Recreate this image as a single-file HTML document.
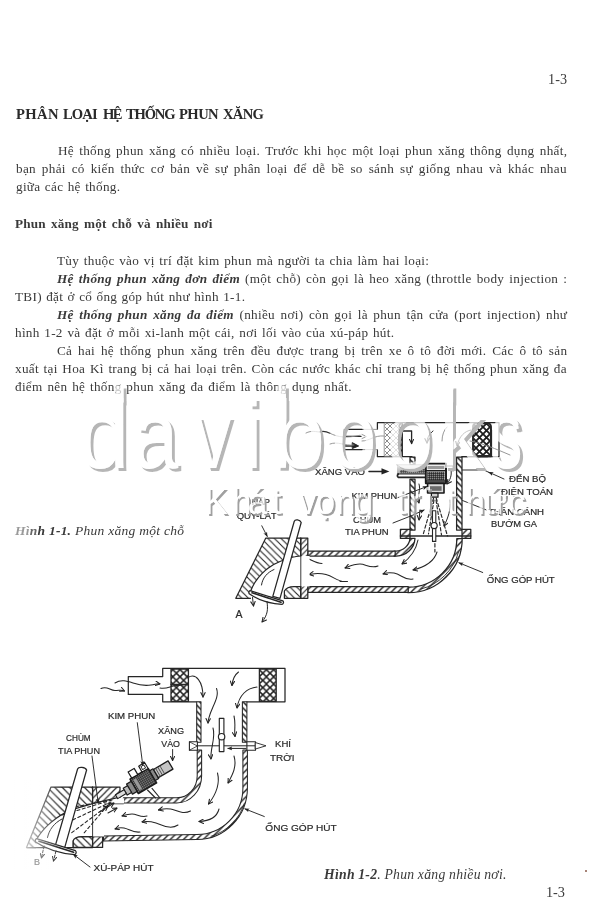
<!DOCTYPE html>
<html lang="vi">
<head>
<meta charset="utf-8">
<title>1-3</title>
<style>
html,body{margin:0;padding:0;background:#fff;}
body{width:600px;height:915px;position:relative;overflow:hidden;font-family:"Liberation Serif",serif;color:#3a3a3a;}
.l{position:absolute;white-space:nowrap;font-size:13.4px;line-height:18px;height:18px;will-change:transform;}
.s{text-align:left;text-align-last:left;}
.b{font-weight:bold;}
.i{font-style:italic;}
.bi{font-weight:bold;font-style:italic;}
svg{position:absolute;left:0;top:0;}
</style>
</head>
<body>
<!--TEXT-->
<div class="l " id="pn1" style="left:548.4px;top:70.01px;font-size:14.2px;letter-spacing:0.139px;word-spacing:0.000px;">1-3</div>
<div class="l b" style="left:15.95px;top:105.47px;font-size:14.6px;letter-spacing:0.423px;color:#2a2a2a;">PHÂN</div>
<div class="l b" style="left:62.70px;top:105.47px;font-size:14.6px;letter-spacing:-0.865px;color:#2a2a2a;">LOẠI</div>
<div class="l b" style="left:102.90px;top:105.47px;font-size:14.6px;letter-spacing:-1.545px;color:#2a2a2a;">HỆ</div>
<div class="l b" style="left:125.70px;top:105.47px;font-size:14.6px;letter-spacing:-1.196px;color:#2a2a2a;">THỐNG</div>
<div class="l b" style="left:179.20px;top:105.47px;font-size:14.6px;letter-spacing:-0.565px;color:#2a2a2a;">PHUN</div>
<div class="l b" style="left:222.70px;top:105.47px;font-size:14.6px;letter-spacing:-0.720px;color:#2a2a2a;">XĂNG</div>
<div class="l " id="p1a" style="left:57.5px;top:141.75px;font-size:13.2px;letter-spacing:0.300px;word-spacing:1.692px;">Hệ thống phun xăng có nhiều loại. Trước khi học một loại phun xăng thông dụng nhất,</div>
<div class="l " id="p1b" style="left:16px;top:160.05px;font-size:13.2px;letter-spacing:0.300px;word-spacing:2.326px;">bạn phải có kiến thức cơ bản về sự phân loại để dễ bề so sánh sự giống nhau và khác nhau</div>
<div class="l " id="p1c" style="left:16px;top:177.94px;font-size:13.2px;letter-spacing:0.300px;word-spacing:0.800px;">giữa các hệ thống.</div>
<div class="l b" id="h2" style="left:15px;top:214.94px;font-size:13.2px;letter-spacing:0.200px;word-spacing:1.647px;">Phun xăng một chỗ và nhiều nơi</div>
<div class="l " id="p2a" style="left:56.5px;top:251.55px;font-size:13.2px;letter-spacing:0.300px;word-spacing:1.035px;">Tùy thuộc vào vị trí đặt kim phun mà người ta chia làm hai loại:</div>
<div class="l " id="p2b" style="left:56.5px;top:270.05px;font-size:13.2px;letter-spacing:0.300px;word-spacing:1.534px;"><span class="bi">Hệ thống phun xăng đơn điểm</span> (một chỗ) còn gọi là heo xăng (throttle body injection :</div>
<div class="l " id="p2c" style="left:15px;top:287.85px;font-size:13.2px;letter-spacing:0.300px;word-spacing:0.742px;">TBI) đặt ở cổ ống góp hút như hình 1-1.</div>
<div class="l " id="p2d" style="left:56.5px;top:306.35px;font-size:13.2px;letter-spacing:0.300px;word-spacing:1.948px;"><span class="bi">Hệ thống phun xăng đa điểm</span> (nhiều nơi) còn gọi là phun tận cửa (port injection) như</div>
<div class="l " id="p2e" style="left:15px;top:324.15px;font-size:13.2px;letter-spacing:0.300px;word-spacing:1.033px;">hình 1-2 và đặt ở mỗi xi-lanh một cái, nơi lối vào của xú-páp hút.</div>
<div class="l " id="p2f" style="left:56.5px;top:342.35px;font-size:13.2px;letter-spacing:0.300px;word-spacing:2.229px;">Cả hai hệ thống phun xăng trên đều được trang bị trên xe ô tô đời mới. Các ô tô sản</div>
<div class="l " id="p2g" style="left:15px;top:360.15px;font-size:13.2px;letter-spacing:0.300px;word-spacing:1.089px;">xuất tại Hoa Kì trang bị cả hai loại trên. Còn các nước khác chỉ trang bị hệ thống phun xăng đa</div>
<div class="l " id="p2h" style="left:15px;top:378.05px;font-size:13.2px;letter-spacing:0.300px;word-spacing:1.216px;">điểm nên hệ thống phun xăng đa điểm là thông dụng nhất.</div>
<div class="l " id="c1" style="left:15px;top:522.04px;font-size:13.5px;letter-spacing:0.200px;word-spacing:0.354px;"><span class="bi"><span style="color:#9a9a9a">Hì</span><span style="color:#666">n</span>h 1-1.</span><span class="i"> Phun xăng một chỗ</span></div>
<div class="l " id="c2" style="left:324px;top:865.58px;font-size:13.7px;letter-spacing:0.300px;word-spacing:-0.387px;"><span class="bi">Hình 1-2</span><span class="i">. Phun xăng nhiều nơi.</span></div>
<div class="l " id="pn2" style="left:546px;top:883.37px;font-size:14.3px;letter-spacing:-0.131px;word-spacing:0.000px;">1-3</div>
<!--/TEXT-->
<!--FIG1-->
<svg width="600" height="915" viewBox="0 0 600 915"><defs>
<pattern id="xh" width="7.2" height="7.2" patternUnits="userSpaceOnUse"><rect width="7.2" height="7.2" fill="#fff"/><path d="M0,0L7.2,7.2M7.2,0L0,7.2" stroke="#1e1e1e" stroke-width="1.45"/></pattern>
<pattern id="xl" width="6" height="6" patternUnits="userSpaceOnUse"><rect width="6" height="6" fill="#fff"/><path d="M0,0L6,6M6,0L0,6" stroke="#666" stroke-width="0.75"/></pattern>
<pattern id="xd" width="7" height="7" patternUnits="userSpaceOnUse"><rect width="7" height="7" fill="#fff"/><path d="M0,0L7,7M7,0L0,7" stroke="#1a1a1a" stroke-width="1.8"/></pattern>
<pattern id="hw" width="6.6" height="6.6" patternUnits="userSpaceOnUse"><rect width="6.6" height="6.6" fill="#fff"/><path d="M-1,1L1,-1M0,6.6L6.6,0M5.6,7.6L7.6,5.6" stroke="#222" stroke-width="1.45"/></pattern>
<pattern id="hwb" width="6.2" height="6.2" patternUnits="userSpaceOnUse"><rect width="6.2" height="6.2" fill="#fff"/><path d="M-1,5.2L1,7.2M0,0L6.2,6.2M5.2,-1L7.2,1" stroke="#222" stroke-width="1.45"/></pattern>
<pattern id="hh" width="6.6" height="6.6" patternUnits="userSpaceOnUse"><rect width="6.6" height="6.6" fill="#fff"/><path d="M-1,5.6L1,7.6M0,0L6.6,6.6M5.6,-1L7.6,1" stroke="#2a2a2a" stroke-width="1.15"/></pattern>
<pattern id="hh2" width="7.4" height="7.4" patternUnits="userSpaceOnUse"><rect width="7.4" height="7.4" fill="#fff"/><path d="M-1,6.4L1,8.4M0,0L7.4,7.4M6.4,-1L8.4,1" stroke="#2a2a2a" stroke-width="1.2"/></pattern>
<pattern id="hf2" width="6.6" height="6.6" patternUnits="userSpaceOnUse"><rect width="6.6" height="6.6" fill="#fff"/><path d="M-1,1L1,-1M0,6.6L6.6,0M5.6,7.6L7.6,5.6" stroke="#2a2a2a" stroke-width="1.2"/></pattern>
<pattern id="hf" width="5.6" height="5.6" patternUnits="userSpaceOnUse"><rect width="5.6" height="5.6" fill="#fff"/><path d="M-1,1L1,-1M0,5.6L5.6,0M4.6,6.6L6.6,4.6" stroke="#2a2a2a" stroke-width="1.15"/></pattern>
<pattern id="tex" width="2" height="2" patternUnits="userSpaceOnUse"><rect width="2" height="2" fill="#4a4a4a"/><rect width="1" height="1" fill="#888"/><rect x="1" y="1" width="1" height="1" fill="#2c2c2c"/></pattern>
<marker id="ah" viewBox="0 0 10 10" refX="8.5" refY="5" markerWidth="5.2" markerHeight="5.2" orient="auto-start-reverse" markerUnits="userSpaceOnUse"><path d="M0,1.2L10,5L0,8.8L2.6,5Z" fill="#222"/></marker>
<marker id="ao" viewBox="0 0 10 10" refX="9" refY="5" markerWidth="5.5" markerHeight="5.5" orient="auto-start-reverse" markerUnits="userSpaceOnUse"><path d="M1,1L9,5L1,9" fill="none" stroke="#222" stroke-width="1.9" stroke-linecap="round" stroke-linejoin="round"/></marker>
<marker id="ab" viewBox="0 0 10 10" refX="8.5" refY="5" markerWidth="7.5" markerHeight="6" orient="auto" markerUnits="userSpaceOnUse"><path d="M0,0.5L10,5L0,9.5Z" fill="#222"/></marker>
<filter id="soft" x="-2%" y="-2%" width="104%" height="104%"><feGaussianBlur stdDeviation="0.35"/></filter>
<filter id="wm1" x="-5%" y="-20%" width="110%" height="140%">
 <feMorphology in="SourceAlpha" operator="erode" radius="0.3" result="e"/>
 <feOffset in="e" dx="2.6" dy="2.9" result="o"/>
 <feGaussianBlur in="o" stdDeviation="0.45" result="ob"/>
 <feFlood flood-color="#b6b6b6"/><feComposite in2="ob" operator="in" result="sh0"/>
 <feComposite in="sh0" in2="e" operator="out" result="sh"/>
 <feFlood flood-color="#ffffff" flood-opacity="0.74"/><feComposite in2="e" operator="in" result="fg"/>
 <feMerge><feMergeNode in="sh"/><feMergeNode in="fg"/></feMerge>
</filter>
<filter id="wm2" x="-5%" y="-20%" width="110%" height="140%">
 <feMorphology in="SourceAlpha" operator="dilate" radius="0.45" result="e"/>
 <feOffset in="e" dx="2.1" dy="1.9" result="o"/>
 <feGaussianBlur in="o" stdDeviation="0.35" result="ob"/>
 <feFlood flood-color="#a0a0a0"/><feComposite in2="ob" operator="in" result="sh0"/>
 <feComposite in="sh0" in2="e" operator="out" result="sh"/>
 <feFlood flood-color="#ffffff" flood-opacity="0.74"/><feComposite in2="e" operator="in" result="fg"/>
 <feMerge><feMergeNode in="sh"/><feMergeNode in="fg"/></feMerge>
</filter>
<linearGradient id="fadeL" x1="0" x2="1" y1="0" y2="0"><stop offset="0" stop-color="#fff" stop-opacity="0.95"/><stop offset="0.45" stop-color="#fff" stop-opacity="0.55"/><stop offset="1" stop-color="#fff" stop-opacity="0"/></linearGradient>
<linearGradient id="tube" x1="0" x2="0" y1="0" y2="1"><stop offset="0" stop-color="#f0f0f0"/><stop offset="0.4" stop-color="#cfcfcf"/><stop offset="1" stop-color="#a8a8a8"/></linearGradient>
</defs>
<g filter="url(#soft)"><g id="fig1" fill="none" stroke="#262626" stroke-width="1.25" stroke-linejoin="round" stroke-linecap="round">
<!-- thin vertical line -->
<path d="M453.6,390V463" stroke="#777" stroke-width="0.9"/>
<!-- air cleaner -->
<path d="M377.4,422.6H499V456.7H462M412,456.7H377.4V449.6M377.4,429.4V422.6"/>
<path d="M377.4,429.4H362M377.4,449.6H362" stroke="#9a9a9a" stroke-width="1"/>
<path d="M362,429.4H344V449.6H362" stroke-width="1.4"/>
<path d="M344,436.4H361" stroke-width="1.3"/><path d="M362,434.5l4.5,2l-4.5,2" stroke="#999" stroke-width="1"/>
<path d="M344,446H355" stroke-width="1.4"/><path d="M352.6,442.8L358.6,446L352.6,448.4Z" fill="#222" stroke-width="1"/>
<rect x="384.6" y="423" width="17.4" height="33.2" fill="url(#xl)" stroke="#888" stroke-width="0.8"/>
<path d="M401,423.2q-3.6,2.7 0,5.5q-3.6,2.7 0,5.5q-3.6,2.7 0,5.5q-3.6,2.7 0,5.5q-3.6,2.7 0,5.5q-3.6,2.7 0,5.5" stroke-width="1.9"/><path d="M402.2,423V456.2" stroke-width="1.5"/>
<rect x="473" y="423.2" width="18" height="33" rx="3.5" fill="url(#xd)" stroke-width="1.9"/>
<path d="M491,430V456.2H478" stroke-width="2.2"/>
<path d="M480,456.7H462" />
<!-- arrows in air cleaner -->
<g stroke-width="1" marker-end="url(#ao)">
<path d="M403,431h8.6v12.5" stroke-width="1.3"/>
<path d="M433,431c-4,3 -6,7 -6,12"/>
<path d="M471,430c-6,1 -12,6 -14,16"/>
</g>
<g stroke-width="0.9" stroke="#8c8c8c">
<path d="M306,433c6,-3 10,-1 14,-1"/><path d="M320,431.8c4,-1 7,0 10,1.5" stroke="#333" stroke-width="1.2"/>
<path d="M330,433.3c8,4 16,5 30,2"/>
<path d="M330,444c8,-3 14,2 24,1"/>
<path d="M362,441c8,0 12,-6 22,-5"/>
<path d="M447,427c-3,3 -5,8 -5,14"/>
<path d="M470,441c12,2 26,8 40,14"/>
</g>
<path d="M518.5,425L520,431.6" stroke="#666" stroke-width="1.2"/>
<!-- throttle body walls -->
<rect x="456.6" y="457" width="5.4" height="73" fill="url(#hwb)"/>
<rect x="410" y="479" width="5" height="51" fill="url(#hwb)"/>
<rect x="410" y="457" width="5" height="7.6" fill="url(#hwb)"/>
<!-- flange -->
<rect x="400.4" y="529.4" width="9.6" height="9" fill="url(#hw)"/>
<rect x="462" y="529.4" width="8.8" height="9" fill="url(#hw)"/>
<path d="M400.4,536H470.8" stroke-width="1.4"/>
<!-- fuel inlet tube -->
<rect x="397" y="464.8" width="28.6" height="9" fill="url(#tube)" stroke="none"/>
<path d="M400,470.2L425.6,468.4V473.6H400Z" fill="url(#tex)" stroke="none" opacity="0.8"/>
<path d="M397,464.8H425.6" stroke-width="0.7" stroke="#777"/>
<path d="M397.4,474H425.6" stroke-width="1.2" stroke="#333"/>
<path d="M425.6,477.4H398.4q-2,-1.7 0,-3.4" stroke-width="1.7"/>
<!-- injector -->
<rect x="425.8" y="463.6" width="20.2" height="19.6" fill="#ececec" stroke="#1a1a1a" stroke-width="1.9"/>
<rect x="427.6" y="466" width="16.6" height="3" fill="#9a9a9a" stroke="none"/>
<rect x="427.2" y="471.6" width="17.4" height="8.6" fill="url(#tex)" stroke="none"/>
<path d="M426,470.6H446M426,481H446" stroke-width="1.3" stroke="#1a1a1a"/>
<rect x="427.6" y="483.4" width="16.4" height="9.6" fill="#dcdcdc" stroke="#1a1a1a" stroke-width="1.6"/>
<rect x="430" y="486.2" width="11.6" height="4.6" fill="#6c6c6c" stroke="none"/>
<rect x="431.4" y="493.2" width="6.6" height="4" fill="#d0d0d0" stroke="#1a1a1a" stroke-width="1.2"/>
<path d="M446.2,466H453V471" stroke-width="1"/>
<!-- spray -->
<g stroke-dasharray="3.4 2.2" stroke-width="1.15">
<path d="M433.6,498L423,535"/><path d="M436.2,498L447.5,536"/>
<path d="M434,500L428.5,534"/><path d="M436,500L441.5,535"/><path d="M434.9,538V552"/>
</g>
<!-- throttle plate -->
<rect x="432.5" y="510.8" width="3.3" height="30.6" fill="#fff" stroke-width="1.1"/>
<circle cx="434.1" cy="525.6" r="3.1" fill="#fff" stroke-width="1.2"/>
<!-- arrows in throttle body -->
<g stroke-width="1" marker-end="url(#ao)">
<path d="M451,470c1,6 -1,10 -4,14"/>
<path d="M419,484c2,6 -2,12 0,19"/>
<path d="M450,500c1,10 -2,18 -6,26"/>
<path d="M420,510l-1,10"/>
</g>
<!-- elbow outer wall -->
<path d="M456.8,538.5H462.2A54,54 0 0 1 408,592.7L407,587.2A48.6,48.6 0 0 0 456.8,538.5Z" fill="url(#hw)"/>
<path d="M458.5,552A52,52 0 0 1 421,589" stroke-width="0.9"/>
<!-- lower wall -->
<rect x="307.8" y="586.6" width="100.4" height="5.8" fill="url(#hw)"/>
<!-- inner elbow wall -->
<path d="M410,538.4H415A18.6,18.6 0 0 1 396,556H394V551H396A14,14 0 0 0 410,538.4Z" fill="url(#hw)"/>
<rect x="307.8" y="551" width="87.4" height="5" fill="url(#hw)"/>
<!-- flow arrows in manifold -->
<g stroke-width="1.05" marker-end="url(#ao)">
<path d="M418,540c-2,10 -8,18 -16,24"/>
<path d="M437,552c-3,10 -12,15 -24,18"/>
<path d="M413,579c-8,2 -12,-5 -19,-6s-8,0 -11,1"/>
<path d="M378,566c-8,3 -12,-2 -18,-2s-10,2 -15,4"/>
<path d="M346,581.5c-8,1 -12,-5 -20,-7s-11,-1 -17,0"/>
<path d="M322,563.5c-8,0 -14,-7 -22,-7s-12,4 -15,8.5"/>
<path d="M299.5,572.5c-7,1 -12,5 -15,12"/>
</g>
<path d="M340,581.5h7.5" stroke-width="1"/>
<!-- cylinder head -->
<path d="M265.8,538H300.8V598.3H235.8Z" fill="url(#hh)"/>
<path d="M300.8,538H307.8V598.3H300.8Z" fill="url(#hf)"/>
<!-- port cutout -->
<path d="M309.6,556H300.8C292,556.5 286,559 280,561.5C266,567 255,579 250.5,591.5L251,599.3H284.4V591C286,588 290,586.6 294,586.6H309.6Z" fill="#fff" stroke="none"/>
<path d="M300.8,556C292,556.5 286,559 280,561.5C266,567 255,579 250.5,591.5M284.4,598.3V591C286,588 290,586.6 294,586.6H300.8"/>
<path d="M274,569.5C267,572.5 262.5,578 261.5,585" stroke-width="1"/>
<path d="M300.8,538V598.3" stroke-width="0.9"/>
<!-- valve stem -->
<path d="M294.2,521.5C295,519 300,519.5 301.2,522.5L280,598.4L272.8,596.4Z" fill="#fff"/>
<!-- valve head -->
<path d="M250,590.6L282.8,600.8C284,602 283.5,604 282,604.4C270,603.6 258,600 249.2,593.8C248.6,592.4 249,591 250,590.6Z" fill="#fff" stroke-width="1.3"/>
<path d="M252,592.8L281,602.2" stroke-width="1.6"/>
<!-- arrows out of valve -->
<g stroke-width="1" marker-end="url(#ao)">
<path d="M252.5,597.5L253.5,606"/>
<path d="M267,601.5c1,8 1,13 -5,20.5"/>
</g>
<!-- leaders -->
<g stroke-width="0.95">
<path d="M261.8,525.8L267.2,536.4" marker-end="url(#ah)"/>
<path d="M398,497.5L411,492.5L427,486.5" marker-end="url(#ah)"/>
<path d="M393,523L412,515.5L424,510" marker-end="url(#ah)"/>
<path d="M462,470H484L490.5,473.2"/><path d="M504,479L489,472.3" marker-end="url(#ah)"/>
<path d="M486.5,510L462.5,500.5"/>
<path d="M482.7,572.5L459,562.8" marker-end="url(#ah)"/>
</g>
<!-- XANG VAO arrow -->
<path d="M369,471.4H383" stroke-width="1.5"/><path d="M381.5,468.2L389.4,471.4L381.5,474.6Z" fill="#222" stroke="none"/>
</g>
<g id="fig2" fill="none" stroke="#262626" stroke-width="1.25" stroke-linejoin="round" stroke-linecap="round">
<!-- air cleaner -->
<path d="M162.7,668.4H285V701.8H247M196.5,701.8H162.7V694.4H128.3V676.6H162.7V668.4M162.7,676.6V668.4M162.7,694.4V701.8"/>
<rect x="171" y="669" width="17.4" height="32.3" fill="url(#xh)" stroke-width="1.3"/>
<path d="M171,684.4H188.4" stroke-width="1.3"/>
<rect x="259.4" y="669" width="16.8" height="32.3" fill="url(#xh)" stroke-width="1.3"/>
<!-- vertical pipe walls -->
<rect x="196.7" y="701.8" width="4.3" height="40.5" fill="url(#hwb)" stroke-width="1.05"/>
<rect x="242.4" y="701.8" width="4.5" height="40.5" fill="url(#hwb)" stroke-width="1.05"/>
<path d="M197.2,750V776A20.4,21.8 0 0 1 176.8,797.8H123.5V803H176.8A25,27 0 0 0 201.6,776V750Z" fill="url(#hw)" stroke-width="1.05"/>
<path d="M242.9,750V788A46,46.5 0 0 1 197,834.5L103.5,836V841L197,839.6A50.6,51.6 0 0 0 247.4,788V750Z" fill="url(#hw)" stroke-width="1.05"/>
<path d="M244.5,803A49,50 0 0 1 211,836.3" stroke-width="0.85"/>
<!-- throttle shaft bosses -->
<rect x="189.4" y="741.8" width="8" height="8.4" fill="#fff" stroke-width="1.1"/>
<path d="M189.4,741.8L197.4,746L189.4,750.2" stroke-width="0.8"/>
<rect x="246.9" y="741.8" width="8.6" height="8.4" fill="#fff" stroke-width="1.1"/>
<path d="M197.4,745.8H264" stroke-width="1"/>
<path d="M255.5,742.6L266,745.8L255.5,749Z" fill="#fff" stroke-width="0.9"/>
<!-- throttle plate -->
<rect x="219.3" y="718.4" width="4.6" height="33.2" fill="#fff" stroke-width="1.15"/>
<circle cx="221.6" cy="736.7" r="3.2" fill="#fff" stroke-width="1.2"/>
<path d="M246,748.4H228" stroke-width="1" marker-end="url(#ah)"/>
<!-- arrows: air -->
<g stroke-width="1.05" marker-end="url(#ao)">
<path d="M101,688.5c6,-3 9,2 14,2s6,-1 9.5,0.5"/>
<path d="M115,683c6,-4 12,-2 18,0s12,3 18,2s6,-1.5 9,-1"/>
<path d="M160,688c7,1.5 10,-2 16,-2.5s8,-0.5 11,-1" marker-end="none"/>
<path d="M188,677.5c8,-5 15,4 15,19.5"/>
<path d="M238.5,672c-4,3 -6,8 -6.5,13.5"/>
<path d="M257,687c-10,1 -18,8 -20,21"/>
<path d="M216.5,688.5c4,10 -8,22 -8.5,34.5"/>
<path d="M234,716c2,8 0,13 1,20.5"/>
<path d="M213,728c3,10 -3,20 -2,31"/>
<path d="M234,756c3,10 -1,18 -6,27"/>
<path d="M217.5,773c3,12 -2,22 -9,31"/>
<path d="M219,809c-2,8 -9,12 -20,12.5"/>
<path d="M190.5,811c-8,4 -14,-1 -20,-2s-8,0 -12,1"/>
<path d="M178,825c-8,5 -15,0 -22,-2s-9,-2 -14,-1"/>
<path d="M147,816c-6,2 -10,-2 -15,-2s-7,1 -10,2"/>
<path d="M140,832c-7,1 -11,-3 -16,-4s-6,0 -9,1"/>
</g>
<!-- cylinder head -->
<path d="M51,787H92.6V847.6H26.5Z" fill="url(#hh2)"/>
<path d="M92.6,787H120V798.5H123.5V803.5H104L92.6,804Z" fill="url(#hf2)"/>
<path d="M73,836.5H92.6V847.4H73Z" fill="url(#hh2)"/>
<path d="M92.6,836.5H102.6V847.4H92.6Z" fill="url(#hf2)"/>
<path d="M102.6,836.5V842" />
<!-- port cutout -->
<path d="M124,803.6V798.2L117.5,797.6L92.6,803.6L72,809.6C56,816 43,828 36.5,839.5L36,849H73V841C74,838 78,836.5 82,836.5H104V803.6Z" fill="#fff" stroke="none"/>
<path d="M117.5,797.6L92.6,803.6L72,809.6C56,816 43,828 36.5,839.5M73,847.4V841C74,838 78,836.5 82,836.5H92.6"/>
<path d="M62,819C54,823 49,830 47.5,837.5" stroke-width="1"/>
<path d="M27,847.6H74" stroke-width="1.1"/>
<path d="M92.6,787V847.4" stroke-width="0.9"/>
<!-- spray dashes -->
<g stroke-width="1.1" stroke-dasharray="3 2.6">
<path d="M112,800L62,815"/><path d="M111,802L64,824"/><path d="M110,804L70,834"/><path d="M106,801L74,807"/><path d="M108,805L84,833"/>
</g>
<g stroke-width="1.05" marker-end="url(#ao)">
<path d="M106,808l8,-5"/><path d="M100,812l8,-6"/><path d="M108,813l9,-5"/>
</g>
<!-- valve stem -->
<path d="M77.6,769C78.4,766.4 85.4,766.8 86.6,770L64.4,848.6L55.2,846Z" fill="#fff"/>
<!-- valve head -->
<path d="M36.5,838.6L75.4,850.6C76.8,852 76.2,854.2 74.6,854.6C60,853.4 46,849 35.6,842C35,840.4 35.4,839 36.5,838.6Z" fill="#fff" stroke-width="1.3"/>
<path d="M39,841.2L73.6,852.2" stroke-width="1.7"/>
<g stroke-width="1" marker-end="url(#ao)" stroke-dasharray="2.6 1.6">
<path d="M44,846L41.5,858"/><path d="M56,851L53.5,861"/>
</g>
<!-- injector -->
<g transform="translate(143.3,781) rotate(-30.5)">
<rect x="-10.6" y="-8.3" width="21.2" height="16.6" fill="url(#tex)" stroke="#1a1a1a" stroke-width="1.5"/>
<rect x="-8" y="-6" width="3" height="12" fill="#999" stroke="none"/>
<rect x="10.6" y="-5.6" width="4" height="11.2" fill="#888" stroke="#1a1a1a" stroke-width="1.1"/>
<rect x="14.6" y="-4.8" width="17" height="9.6" fill="#c4c4c4" stroke="#1a1a1a" stroke-width="1.3"/>
<path d="M17,-4.6V4.6M19.5,-4.6V4.6M22,-4.6V4.6" stroke-width="0.8" stroke="#444"/>
<rect x="-16" y="-5.8" width="5.4" height="11.6" fill="#888" stroke="#1a1a1a" stroke-width="1.2"/>
<rect x="-21" y="-4" width="5" height="8" fill="#bbb" stroke="#1a1a1a" stroke-width="1.1"/>
<rect x="-31" y="-2.2" width="10" height="4.4" fill="#ddd" stroke="#1a1a1a" stroke-width="1.1"/>
<rect x="-8.5" y="-15.5" width="7" height="7.2" fill="#fff" stroke="#1a1a1a" stroke-width="1.2"/>
<path d="M3.5,-8.3V-15L10.5,-15.6V-8.3Z" fill="#fff" stroke="#1a1a1a" stroke-width="1.2"/>
<rect x="5.2" y="-13.6" width="3.4" height="3.4" fill="#fff" stroke-width="0.9"/>
</g>
<path d="M147.5,790L155.5,798M152,788.4L160,798" stroke-width="1.1"/>
<!-- leaders -->
<g stroke-width="0.95">
<path d="M137.3,722.7L142.8,765.5" marker-end="url(#ah)"/>
<path d="M92,756L98.2,803" marker-end="url(#ah)"/>
<path d="M172.6,749.5V760.5" marker-end="url(#ao)"/>
<path d="M264.3,816.5L245,808.9" marker-end="url(#ah)"/>
<path d="M90,867L73.4,854.4" marker-end="url(#ah)"/>
</g>
<circle cx="586" cy="871" r="1" fill="#8a5a4a" stroke="none"/>
<!-- fade on left -->
<rect x="14" y="780" width="46" height="90" fill="url(#fadeL)" stroke="none"/>
</g>
<g font-family="Liberation Sans, sans-serif" fill="#2a2a2a" stroke="#2a2a2a" stroke-width="0.2">
<text x="315" y="474.6" font-size="8.8" textLength="50.0" lengthAdjust="spacingAndGlyphs">XĂNG VÀO</text>
<text x="351.6" y="499.4" font-size="8.8" textLength="45.8" lengthAdjust="spacingAndGlyphs">KIM PHUN</text>
<text x="353" y="523" font-size="8.8" textLength="28.0" lengthAdjust="spacingAndGlyphs">CHÙM</text>
<text x="345" y="535.4" font-size="8.8" textLength="43.6" lengthAdjust="spacingAndGlyphs">TIA PHUN</text>
<text x="251.7" y="504.7" font-size="8.6" textLength="18.3" lengthAdjust="spacingAndGlyphs">NẮP</text>
<text x="236.7" y="518.8" font-size="8.6" textLength="40.0" lengthAdjust="spacingAndGlyphs">QUY-LÁT</text>
<text x="509" y="482" font-size="8.8" textLength="37.0" lengthAdjust="spacingAndGlyphs">ĐẾN BỘ</text>
<text x="501" y="494.6" font-size="8.8" textLength="52.0" lengthAdjust="spacingAndGlyphs">ĐIỆN TOÁN</text>
<text x="488" y="515" font-size="8.8" textLength="56.0" lengthAdjust="spacingAndGlyphs">THÂN CÁNH</text>
<text x="491" y="527" font-size="8.8" textLength="46.0" lengthAdjust="spacingAndGlyphs">BƯỚM GA</text>
<text x="486.7" y="582.7" font-size="9" textLength="68.0" lengthAdjust="spacingAndGlyphs">ỐNG GÓP HÚT</text>
<text x="235.5" y="617.6" font-size="11" textLength="7.0" lengthAdjust="spacingAndGlyphs">A</text>
<text x="108" y="719.2" font-size="9" textLength="47.2" lengthAdjust="spacingAndGlyphs">KIM PHUN</text>
<text x="158.1" y="734.1" font-size="9" textLength="25.9" lengthAdjust="spacingAndGlyphs">XĂNG</text>
<text x="161.3" y="746.5" font-size="9" textLength="18.7" lengthAdjust="spacingAndGlyphs">VÀO</text>
<text x="66.1" y="740.5" font-size="9" textLength="24.6" lengthAdjust="spacingAndGlyphs">CHÙM</text>
<text x="58.1" y="753.5" font-size="9" textLength="41.9" lengthAdjust="spacingAndGlyphs">TIA PHUN</text>
<text x="275" y="747" font-size="9" textLength="16.0" lengthAdjust="spacingAndGlyphs">KHÍ</text>
<text x="270" y="761" font-size="9" textLength="24.5" lengthAdjust="spacingAndGlyphs">TRỜI</text>
<text x="265.3" y="830.5" font-size="9.2" textLength="71.4" lengthAdjust="spacingAndGlyphs">ỐNG GÓP HÚT</text>
<text x="93.5" y="870.6" font-size="9" textLength="60.0" lengthAdjust="spacingAndGlyphs">XÚ-PÁP HÚT</text>
<text x="34" y="865" font-size="9" textLength="6.0" lengthAdjust="spacingAndGlyphs" fill="#999" stroke="#999">B</text>
</g></g></svg>
<!--/FIG1-->
<!--FIG2-->
<!--/FIG2-->
<!--WM-->
<svg width="600" height="915" viewBox="0 0 600 915"><g font-family="Liberation Sans, sans-serif" stroke="none" fill="#000">
<g filter="url(#wm1)" font-size="93">
<text transform="translate(78.12,468) scale(0.994,1.04)">d</text>
<text transform="translate(132.76,468) scale(0.880,1.04)">a</text>
<text transform="translate(193.09,468) scale(0.832,1.04)">v</text>
<text transform="translate(244.26,468) scale(0.850,1.04)">i</text>
<text transform="translate(271.19,468) scale(1.044,1.04)">b</text>
<text transform="translate(331.61,468) scale(0.868,1.04)">o</text>
<text transform="translate(386.48,468) scale(0.902,1.04)">o</text>
<text transform="translate(438.97,468) scale(0.968,1.04)">k</text>
<text transform="translate(490.73,468) scale(0.680,1.04)">s</text>
<!-- stem ext --><rect x="115.4" y="385.5" width="8.1" height="17"/><rect x="277.5" y="385.5" width="8.4" height="17"/><rect x="445" y="385.5" width="8.3" height="17"/>
</g>
<g filter="url(#wm2)" font-size="37.5"><text transform="scale(0.94,1)" x="217.4 246.6 263.5 288.8 317.7 335.6 357.1 376.1 421.8 435.1 451.6 475.0 495.0 514.4 540.4" y="514">Khátvọngtrithức</text></g>
</g></svg>
<!--/WM-->
</body>
</html>
